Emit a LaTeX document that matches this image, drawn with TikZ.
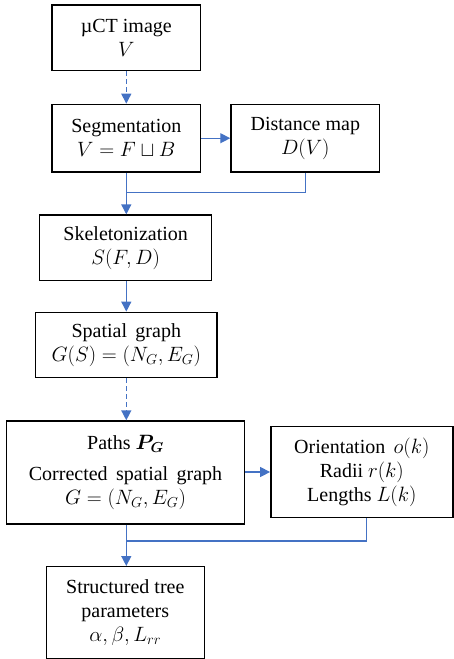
\documentclass[tikz,border=0pt]{standalone}
\usepackage{amsmath}
\usepackage{bm}
\usepackage{fontspec}
\setmainfont{Liberation Serif}
\usetikzlibrary{arrows.meta}
\definecolor{flowblue}{HTML}{4472C4}
\begin{document}
\begin{tikzpicture}[x=1pt,y=-1pt,
  box/.style={draw=black,line width=1.4pt,rectangle,align=center,inner sep=0pt,
    font=\fontsize{20}{24}\selectfont},
  conn/.style={draw=flowblue,line width=1.4pt},
  arr/.style={conn,-{Triangle[length=10pt,width=10pt]}},
  dsh/.style={arr,dash pattern=on 5pt off 3pt}]
\useasboundingbox (0,0) rectangle (454,659);
\node[box,minimum width=148.7pt,minimum height=65.7pt] (ct) at (126.3,37.9) {µCT image\\$V$};
\node[box,minimum width=148.7pt,minimum height=67.7pt] (seg) at (126.3,138.2) {Segmentation\\$V = F \sqcup B$};
\node[box,minimum width=148.7pt,minimum height=67.7pt] (dist) at (305.3,138.2) {Distance map\\$D(V)$};
\node[box,minimum width=172pt,minimum height=65.3pt] (skel) at (125.7,247.7) {Skeletonization\\$S(F,D)$};
\node[box,minimum width=181.3pt,minimum height=65.4pt] (sg) at (126.3,345) {Spatial\, graph\\$G(S) = (N_G,E_G)$};
\node[box,minimum width=237.6pt,minimum height=103pt] (paths) at (125.5,472.5) {Paths $\bm{P}_{\bm{G}}$\\[7pt]Corrected\, spatial\, graph\\$G = (N_G,E_G)$};
\node[box,minimum width=182pt,minimum height=90.6pt] (orient) at (361.8,472) {Orientation\, $o(k)$\\Radii $r(k)$\\Lengths $L(k)$};
\node[box,minimum width=158pt,minimum height=91.6pt] (tree) at (125.3,612.5) {Structured tree\\parameters\\$\alpha,\beta,L_{rr}$};
\coordinate (m1) at (126.3,192.7);
\coordinate (m2) at (126.3,541);
\draw[dsh] (ct.south) -- (seg.north);
\draw[arr] (seg.east) -- (dist.west);
\draw[conn] (dist.south) |- (m1);
\draw[arr] (seg.south) -- (skel.north -| seg.south);
\draw[arr] (skel.south -| sg.north) -- (sg.north);
\draw[dsh] (sg.south) -- (paths.north -| sg.south);
\draw[arr] (paths.east |- orient.west) -- (orient.west);
\draw[conn] ([xshift=4.5pt]orient.south) |- (m2);
\draw[arr] (paths.south -| m2) -- (tree.north -| m2);
\end{tikzpicture}
\end{document}
